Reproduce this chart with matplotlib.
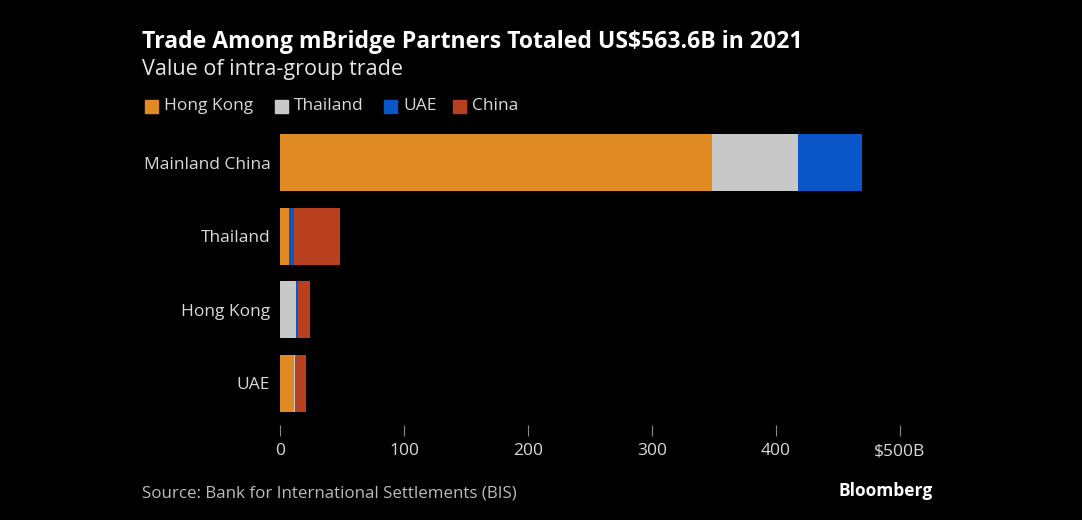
import numpy as np
import matplotlib.pyplot as plt

plt.rcParams['font.family'] = ['Open Sans', 'DejaVu Sans']

rows = ['Mainland China', 'Thailand', 'Hong Kong', 'UAE']
# trade value in US$B, by partner
data = {
    'Hong Kong': [348.4, 7.3, 0.0, 10.9],
    'Thailand':  [69.4, 0.0, 13.0, 0.8],
    'UAE':       [51.6, 4.0, 1.2, 0.0],
    'China':     [0.0, 37.0, 9.7, 8.9],
}
colors = {'Hong Kong': '#e08a24', 'Thailand': '#c8c8c8',
          'UAE': '#0a55c8', 'China': '#b8401e'}

W, H = 1082, 520
fig = plt.figure(figsize=(W / 100, H / 100), dpi=100, facecolor='black')
ax = fig.add_axes([280 / W, 1 - 425 / H, 620 / W, (425 - 121) / H], facecolor='black')

y = np.arange(len(rows))
left = np.zeros(len(rows))
for name, vals in data.items():
    ax.barh(y, vals, left=left, height=0.78, color=colors[name], label=name)
    left += np.array(vals)

ax.set_xlim(0, 500)
ax.set_ylim(3.57, -0.57)
ax.set_yticks(y)
ax.set_yticklabels(rows, color='#d9d9d9', fontsize=12.5)
ax.set_xticks([0, 100, 200, 300, 400, 500])
ax.set_xticklabels(['0', '100', '200', '300', '400', '$500B'], color='#d9d9d9', fontsize=12.5)
ax.tick_params(axis='y', length=0, pad=7)
ax.tick_params(axis='x', length=8, color='#888888', pad=5)
for s in ax.spines.values():
    s.set_visible(False)

fig.text(142 / W, 1 - 42 / H, 'Trade Among mBridge Partners Totaled US$563.6B in 2021',
         color='white', fontsize=16.6, fontweight='bold', va='center')
fig.text(142 / W, 1 - 69 / H, 'Value of intra-group trade', color='#e6e6e6',
         fontsize=15.5, va='center')

lx = 145
steps = {'Hong Kong': 130, 'Thailand': 109, 'UAE': 69, 'China': 0}
for name in data:
    fig.patches.append(plt.Rectangle((lx / W, 1 - 113 / H), 13 / W, 13 / H,
                                     transform=fig.transFigure, color=colors[name]))
    fig.text((lx + 19) / W, 1 - 106 / H, name, color='#d9d9d9', fontsize=12.5, va='center')
    lx += steps[name]

fig.text(142 / W, 1 - 493 / H, 'Source: Bank for International Settlements (BIS)',
         color='#bbbbbb', fontsize=12.2, va='center')
fig.text(933 / W, 1 - 491 / H, 'Bloomberg', color='white', fontsize=12.5,
         fontweight='bold', ha='right', va='center')

fig.savefig('out.png', dpi=100, facecolor='black')
